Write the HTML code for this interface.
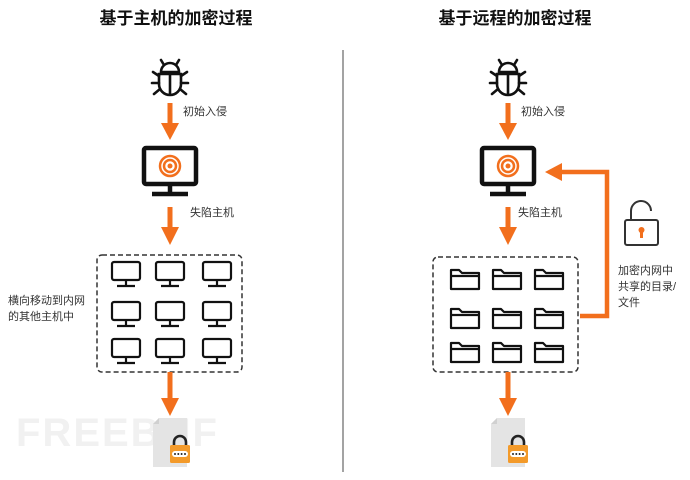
<!DOCTYPE html>
<html><head><meta charset="utf-8"><style>
html,body{margin:0;padding:0;background:#fff;}
svg{display:block;font-family:"Liberation Sans","Noto Sans CJK SC",sans-serif;}
</style></head><body>
<svg width="690" height="480" viewBox="0 0 690 480" xmlns="http://www.w3.org/2000/svg">
<defs>
  <g id="bug" fill="none" stroke="#111" stroke-width="2.6" stroke-linecap="round">
    <path d="M-9,-6 A9,9 0 0 1 9,-6 Z" />
    <path d="M-11,-4 L11,-4 L11,6 A11,11 0 0 1 -11,6 Z"/>
    <line x1="0" y1="-4" x2="0" y2="16"/>
    <path d="M-6,-13 L-9,-18 M6,-13 L9,-18"/>
    <path d="M-11,-2 L-17,-6 M11,-2 L17,-6 M-11,5 L-18,5 M11,5 L18,5 M-10,11 L-16,16 M10,11 L16,16"/>
  </g>
  <g id="mon" fill="none" stroke="#111">
    <rect x="-26" y="-22" width="52" height="36" rx="2" stroke-width="4.5"/>
    <line x1="0" y1="14" x2="0" y2="22" stroke-width="4.5"/>
    <line x1="-18" y1="24" x2="18" y2="24" stroke-width="4.5"/>
  </g>
  <g id="target">
    <circle cx="0" cy="0" r="10" fill="none" stroke="#f26f1d" stroke-width="2.5"/>
    <circle cx="0" cy="0" r="6" fill="none" stroke="#f26f1d" stroke-width="2.5"/>
    <circle cx="0" cy="0" r="2.5" fill="#f26f1d"/>
  </g>
  <g id="smon" fill="none" stroke="#111" stroke-width="2.2">
    <rect x="-14" y="-11" width="28" height="18" rx="2"/>
    <line x1="0" y1="7" x2="0" y2="12"/>
    <line x1="-9" y1="13" x2="9" y2="13"/>
  </g>
  <g id="folder" fill="none" stroke="#111" stroke-width="2.2" stroke-linejoin="round">
    <path d="M-14,-9 L-6,-9 L-3,-6 L14,-6 L14,10 L-14,10 Z"/>
    <line x1="-14" y1="-3" x2="14" y2="-3"/>
  </g>
  <g id="doc">
    <path d="M-11,-25 L17,-25 L17,24 L-17,24 L-17,-19 Z" fill="#e4e4e4"/>
    <path d="M-17,-19 L-11,-19 L-11,-25" fill="#d0d0d0"/>
    <path d="M4,3 L4,-1 A6,6 0 0 1 16,-1 L16,3" fill="none" stroke="#222" stroke-width="2.6"/>
    <rect x="0" y="2" width="20" height="18" rx="1.5" fill="#f39a2a"/>
    <rect x="2" y="8" width="16" height="6" rx="3" fill="#fff"/>
    <g fill="#222"><circle cx="5" cy="11" r="1"/><circle cx="8.3" cy="11" r="1"/><circle cx="11.6" cy="11" r="1"/><circle cx="15" cy="11" r="1"/></g>
  </g>
</defs>

<text x="176" y="24" text-anchor="middle" font-size="17" font-weight="bold" fill="#111">基于主机的加密过程</text>
<text x="515" y="24" text-anchor="middle" font-size="17" font-weight="bold" fill="#111">基于远程的加密过程</text>
<line x1="343" y1="50" x2="343" y2="472" stroke="#666" stroke-width="1.2"/>

<!-- watermark -->
<text x="16" y="446" font-size="40" font-weight="bold" fill="#f1f1f1" letter-spacing="2">FREEBUF</text>

<!-- LEFT -->
<use href="#bug" x="170" y="78"/>
<rect x="167.5" y="103" width="5" height="22" fill="#f26f1d"/>
<polygon points="161,123 179,123 170,140" fill="#f26f1d"/>
<text x="183" y="115" font-size="11" fill="#333">初始入侵</text>
<use href="#mon" x="170" y="170"/>
<use href="#target" x="170" y="166"/>
<text x="190" y="216" font-size="11" fill="#333">失陷主机</text>
<rect x="167.5" y="207" width="5" height="22" fill="#f26f1d"/>
<polygon points="161,227 179,227 170,245" fill="#f26f1d"/>
<rect x="97" y="255" width="145" height="117" rx="5" fill="none" stroke="#333" stroke-width="1.5" stroke-dasharray="5,3"/>
<g>
<use href="#smon" x="126" y="273"/><use href="#smon" x="170" y="273"/><use href="#smon" x="217" y="273"/>
<use href="#smon" x="126" y="313"/><use href="#smon" x="170" y="313"/><use href="#smon" x="217" y="313"/>
<use href="#smon" x="126" y="350"/><use href="#smon" x="170" y="350"/><use href="#smon" x="217" y="350"/>
</g>
<text x="8" y="304" font-size="11" fill="#333">横向移动到内网</text>
<text x="8" y="320" font-size="11" fill="#333">的其他主机中</text>
<rect x="167.5" y="372" width="5" height="28" fill="#f26f1d"/>
<polygon points="161,398 179,398 170,416" fill="#f26f1d"/>
<use href="#doc" x="170" y="443"/>

<!-- RIGHT -->
<use href="#bug" x="508" y="78"/>
<rect x="505.5" y="103" width="5" height="22" fill="#f26f1d"/>
<polygon points="499,123 517,123 508,140" fill="#f26f1d"/>
<text x="521" y="115" font-size="11" fill="#333">初始入侵</text>
<use href="#mon" x="508" y="170"/>
<use href="#target" x="508" y="166"/>
<text x="518" y="216" font-size="11" fill="#333">失陷主机</text>
<rect x="505.5" y="207" width="5" height="22" fill="#f26f1d"/>
<polygon points="499,227 517,227 508,245" fill="#f26f1d"/>
<rect x="433" y="257" width="145" height="115" rx="5" fill="none" stroke="#333" stroke-width="1.5" stroke-dasharray="5,3"/>
<g>
<use href="#folder" x="465" y="279"/><use href="#folder" x="507" y="279"/><use href="#folder" x="549" y="279"/>
<use href="#folder" x="465" y="318"/><use href="#folder" x="507" y="318"/><use href="#folder" x="549" y="318"/>
<use href="#folder" x="465" y="352"/><use href="#folder" x="507" y="352"/><use href="#folder" x="549" y="352"/>
</g>
<polyline points="580,316 607,316 607,172 560,172" fill="none" stroke="#f26f1d" stroke-width="4.5"/>
<polygon points="562,163 562,181 545,172" fill="#f26f1d"/>
<g fill="none" stroke="#333" stroke-width="2">
  <path d="M631,220 L631,211 A10,10 0 0 1 651,211"/>
  <rect x="625" y="220" width="33" height="25" rx="2"/>
</g>
<circle cx="641.5" cy="230" r="3" fill="#f26f1d"/>
<rect x="640" y="231" width="3" height="7" fill="#f26f1d"/>
<text x="618" y="274" font-size="11" fill="#333">加密内网中</text>
<text x="618" y="290" font-size="11" fill="#333">共享的目录/</text>
<text x="618" y="306" font-size="11" fill="#333">文件</text>
<rect x="505.5" y="372" width="5" height="28" fill="#f26f1d"/>
<polygon points="499,398 517,398 508,416" fill="#f26f1d"/>
<use href="#doc" x="508" y="443"/>
</svg>
</body></html>
